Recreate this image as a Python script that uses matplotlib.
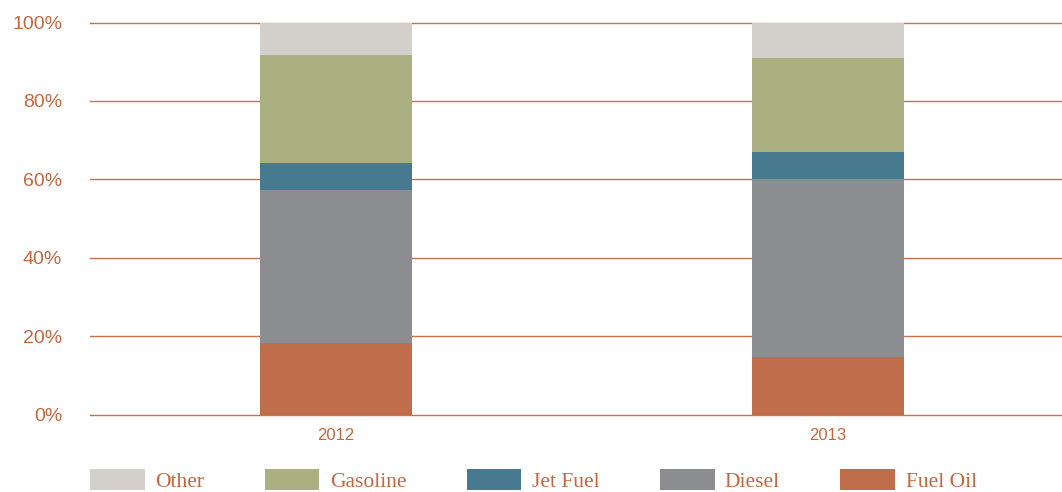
import numpy as np
import matplotlib
matplotlib.use("Agg")
from matplotlib import pyplot as plt

years = ["2012", "2013"]
fuel_oil = [18.3, 14.7]
diesel = [38.9, 45.3]
jet_fuel = [6.9, 6.9]
gasoline = [27.6, 24.0]
other = [8.3, 9.1]

series = [
    ("Fuel Oil", fuel_oil, "#bf6d4a"),
    ("Diesel", diesel, "#8c8d91"),
    ("Jet Fuel", jet_fuel, "#477a8e"),
    ("Gasoline", gasoline, "#aab081"),
    ("Other", other, "#d3d0cb"),
]

ORANGE = "#c4673f"

fig = plt.figure(figsize=(10.62, 4.92), dpi=100)
ax = fig.add_axes([90 / 1062, 1 - 414.5 / 492, 1 - 90 / 1062, 392 / 492])

x = np.arange(len(years))
bottom = np.zeros(len(years))
handles = []
for name, vals, color in series:
    b = ax.bar(x, vals, width=0.309, bottom=bottom, color=color, label=name, zorder=3)
    handles.append(b)
    bottom += np.array(vals)

ax.set_xlim(-0.5, 1.4756)
ax.set_ylim(0, 100)
ax.set_yticks([0, 20, 40, 60, 80, 100])
ax.set_yticklabels([f"{v}%" for v in [0, 20, 40, 60, 80, 100]])
ax.set_xticks(x)
ax.set_xticklabels(years)
ax.yaxis.grid(True, color="#c8704b", linewidth=1.0, zorder=0)
for gl in ax.yaxis.get_gridlines():
    gl.set_clip_on(False)
ax.set_axisbelow(True)
for s in ax.spines.values():
    s.set_visible(False)
ax.tick_params(axis="y", length=0, pad=20, labelsize=14, labelcolor=ORANGE)
ax.tick_params(axis="x", length=0, pad=10, labelsize=12, labelcolor=ORANGE)
for lab in ax.get_xticklabels() + ax.get_yticklabels():
    lab.set_fontfamily("Liberation Sans")

leg = fig.legend(handles[::-1], [s[0] for s in series][::-1],
                 loc="upper left", bbox_to_anchor=(90 / 1062, 1 - 469 / 492),
                 ncol=5, frameon=False, borderpad=0, borderaxespad=0,
                 handlelength=2.55, handleheight=1.1, handletextpad=0.48,
                 columnspacing=2.8,
                 prop={"family": "Liberation Serif", "size": 15.5})
for t in leg.get_texts():
    t.set_color(ORANGE)

fig.savefig("out.png", dpi=100)
